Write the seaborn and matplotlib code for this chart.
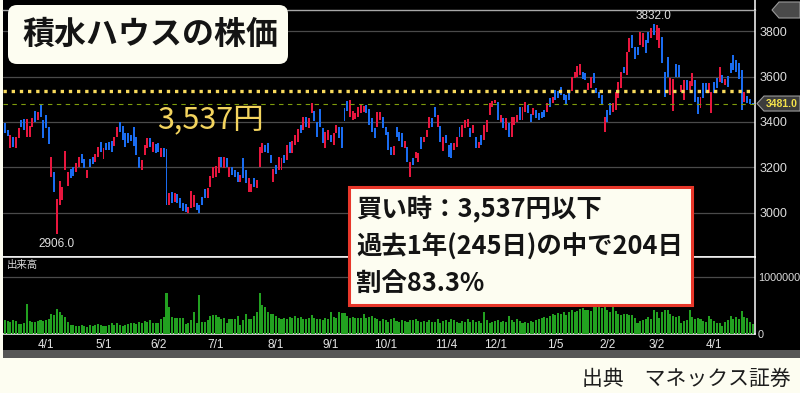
import numpy as np
import pandas as pd
import matplotlib
matplotlib.use("Agg")
import matplotlib.pyplot as plt
from matplotlib.patches import FancyBboxPatch, Rectangle, Polygon
from matplotlib.lines import Line2D
from matplotlib.transforms import IdentityTransform
import seaborn as sns

# ---------------- data ----------------
first_day = -15  # trading-day index of first candle (4/1 = 0)

opens = [
    3394, 3364, 3284, 3335, 3284, 3328, 3408, 3411, 3335, 3332,
    3379, 3450, 3408, 3473, 3408, 3430, 3379, 3159, 3181, 2906,
    3034, 3056, 3188, 3119, 3191, 3203, 3178, 3203, 3257, 3235,
    3152, 3235, 3247, 3225, 3247, 3313, 3235, 3306, 3313, 3318,
    3294, 3335, 3401, 3382, 3350, 3350, 3342, 3379, 3335, 3247,
    3188, 3254, 3284, 3328, 3269, 3303, 3309, 3247, 3284, 3279,
    3034, 3093, 3049, 3083, 3063, 3041, 3039, 3000, 3020, 3027,
    3041, 3034, 3071, 3103, 3063, 3115, 3152, 3159, 3174, 3247,
    3196, 3240, 3159, 3203, 3188, 3181, 3137, 3240, 3188, 3093,
    3090, 3152, 3108, 3203, 3262, 3299, 3309, 3254, 3137, 3210,
    3188, 3188, 3254, 3232, 3313, 3262, 3298, 3313, 3386, 3364,
    3423, 3372, 3438, 3450, 3401, 3456, 3372, 3284, 3320, 3342,
    3298, 3350, 3379, 3379, 3460, 3494, 3423, 3408, 3411, 3423,
    3438, 3445, 3475, 3456, 3416, 3372, 3379, 3408, 3423, 3379,
    3357, 3291, 3254, 3379, 3357, 3350, 3284, 3291, 3159, 3240,
    3240, 3225, 3335, 3313, 3335, 3372, 3416, 3464, 3376, 3382,
    3273, 3342, 3298, 3309, 3276, 3291, 3379, 3335, 3372, 3379,
    3372, 3350, 3332, 3284, 3342, 3320, 3357, 3431, 3465, 3482,
    3489, 3401, 3416, 3364, 3394, 3335, 3387, 3401, 3464, 3408,
    3445, 3475, 3435, 3431, 3452, 3438, 3445, 3452, 3445, 3504,
    3482, 3541, 3538, 3555, 3523, 3518, 3526, 3538, 3592, 3600,
    3607, 3621, 3614, 3541, 3548, 3614, 3548, 3533, 3518, 3357,
    3452, 3482, 3445, 3452, 3504, 3548, 3643, 3607, 3710, 3783,
    3731, 3731, 3739, 3731, 3761, 3798, 3768, 3832, 3761, 3724,
    3775, 3621, 3684, 3519, 3450, 3655, 3651, 3533, 3497, 3585,
    3541, 3558, 3585, 3511, 3460, 3570, 3570, 3526, 3441, 3577,
    3592, 3577, 3607, 3563, 3602, 3658, 3695, 3673, 3658, 3629,
    3489, 3514, 3500, 3484,
]
closes = [
    3350, 3338, 3342, 3291, 3335, 3372, 3379, 3364, 3411, 3382,
    3416, 3401, 3445, 3420, 3328, 3372, 3303, 3244, 3093, 3060,
    3140, 3115, 3272, 3181, 3152, 3163, 3221, 3247, 3218, 3196,
    3188, 3200, 3215, 3257, 3288, 3269, 3284, 3276, 3276, 3269,
    3335, 3376, 3357, 3320, 3291, 3306, 3318, 3294, 3254, 3196,
    3232, 3298, 3328, 3291, 3313, 3262, 3269, 3284, 3247, 3034,
    3088, 3045, 3085, 3045, 3020, 3009, 3005, 3027, 3097, 3078,
    3012, 2997, 3034, 3064, 3108, 3162, 3203, 3206, 3247, 3203,
    3247, 3203, 3203, 3166, 3159, 3137, 3166, 3152, 3130, 3152,
    3125, 3115, 3144, 3291, 3306, 3269, 3265, 3218, 3191, 3171,
    3247, 3240, 3221, 3298, 3262, 3318, 3342, 3367, 3350, 3423,
    3379, 3419, 3485, 3404, 3335, 3379, 3306, 3357, 3364, 3313,
    3353, 3387, 3328, 3284, 3406, 3450, 3497, 3450, 3441, 3464,
    3475, 3470, 3438, 3387, 3357, 3328, 3445, 3445, 3372, 3342,
    3276, 3254, 3294, 3335, 3318, 3291, 3318, 3225, 3225, 3210,
    3269, 3262, 3279, 3335, 3364, 3420, 3379, 3420, 3430, 3313,
    3335, 3306, 3247, 3240, 3306, 3335, 3335, 3387, 3408, 3411,
    3335, 3387, 3284, 3313, 3298, 3387, 3408, 3482, 3494, 3497,
    3408, 3430, 3372, 3416, 3335, 3423, 3423, 3430, 3408, 3464,
    3489, 3438, 3401, 3460, 3416, 3408, 3416, 3423, 3482, 3467,
    3511, 3497, 3504, 3518, 3497, 3475, 3497, 3596, 3621, 3646,
    3655, 3588, 3585, 3570, 3599, 3570, 3526, 3504, 3475, 3423,
    3401, 3430, 3482, 3533, 3577, 3621, 3614, 3710, 3768, 3724,
    3676, 3695, 3798, 3790, 3705, 3749, 3812, 3783, 3827, 3812,
    3658, 3511, 3599, 3592, 3588, 3599, 3599, 3563, 3585, 3541,
    3582, 3614, 3489, 3435, 3511, 3504, 3526, 3573, 3533, 3526,
    3548, 3643, 3570, 3588, 3555, 3614, 3629, 3621, 3588, 3452,
    3533, 3485, 3479, 3481,
]
volumes_k = [  # thousand shares
    240, 230, 215, 250, 225, 180, 175, 200, 530, 230,
    220, 210, 230, 240, 235, 250, 270, 350, 340, 440,
    390, 330, 300, 220, 160, 170, 150, 140, 160, 150,
    130, 170, 150, 160, 180, 170, 150, 140, 160, 190,
    160, 190, 170, 150, 170, 180, 200, 190, 180, 210,
    200, 230, 220, 240, 200, 190, 200, 260, 300, 710,
    480, 300, 290, 280, 280, 290, 180, 200, 250, 380,
    200, 680, 210, 220, 240, 310, 340, 330, 300, 270,
    290, 190, 270, 270, 270, 310, 160, 250, 350, 270,
    270, 320, 380, 720, 500, 470, 380, 350, 350, 310,
    290, 260, 290, 270, 300, 280, 310, 280, 300, 260,
    270, 290, 330, 290, 270, 260, 240, 280, 270, 380,
    300, 290, 380, 370, 370, 310, 290, 300, 280, 290,
    290, 350, 280, 300, 310, 280, 260, 230, 270, 240,
    210, 270, 280, 230, 220, 250, 230, 220, 250, 250,
    270, 230, 210, 230, 220, 240, 210, 220, 260, 190,
    230, 240, 220, 260, 240, 220, 200, 230, 210, 260,
    210, 250, 220, 230, 190, 380, 240, 200, 210, 230,
    240, 210, 230, 220, 310, 240, 220, 270, 230, 200,
    210, 200, 230, 210, 240, 260, 280, 300, 280, 310,
    360, 340, 370, 360, 390, 340, 380, 420, 380, 410,
    440, 460, 430, 420, 410, 470, 520, 500, 460, 540,
    430, 380, 470, 400, 360, 330, 350, 360, 330, 340,
    280, 200, 230, 250, 270, 300, 270, 430, 380, 280,
    380, 430, 420, 360, 320, 300, 310, 200, 230, 240,
    420, 300, 260, 290, 260, 230, 210, 310, 260, 230,
    190, 200, 150, 220, 250, 310, 260, 300, 270, 410,
    300, 290, 220, 180,
]

tick_days = [0, 21, 41, 62, 84, 104, 124, 146, 164, 186, 205, 223, 244]
tick_labels = ["4/1", "5/1", "6/2", "7/1", "8/1", "9/1", "10/1", "11/4",
               "12/1", "1/5", "2/2", "3/2", "4/1"]
price_ticks = [3000, 3200, 3400, 3600, 3800]
volume_ticks = [0, 1000000]
buy_price = 3537
title = "積水ハウスの株価"
buy_label = "3,537円"
info_lines = ["買い時：3,537円以下", "過去1年(245日)の中で204日", "割合83.3%"]
volume_label = "出来高"
source = "出典　マネックス証券"

# ---------------- style ----------------
sns.set_style("dark")
plt.rcParams["font.family"] = ["Noto Sans CJK JP", "DejaVu Sans"]
NUMFONT = ["Liberation Sans", "DejaVu Sans"]

W, H = 800, 393
PX = IdentityTransform()


def fx(x):
    return x / W


def fy(y):
    return 1 - y / H


CREAM = "#fdfdf1"
RED = "#e8163e"
BLUE = "#1a6cf0"
GREEN = "#22a020"

o = np.array(opens, float)
c = np.array(closes, float)
days = np.arange(first_day, first_day + len(c))
vol = np.array(volumes_k, float) * 1000

fig = plt.figure(figsize=(8, 3.93), dpi=100)
fig.patch.set_facecolor(CREAM)

# dark chart area & lower grey strip
fig.add_artist(Rectangle((3, H - 358), W - 3, 358, transform=PX,
                         facecolor="black", edgecolor="none", zorder=0))
fig.add_artist(Rectangle((3, H - 358), W - 3, 8, transform=PX,
                         facecolor="#565656", edgecolor="none", zorder=0.5))

xlim = (-15.7, 258.9)

# ---------------- price panel ----------------
pax = fig.add_axes([fx(3), fy(257), fx(755) - fx(3), (257 - 10) / H])
pax.set_facecolor("black")
pax.grid(False)
pax.set_xlim(*xlim)
pax.set_ylim(2805, 3893)
for p in price_ticks:
    pax.axhline(p, color="#4a4a4a", lw=0.9, zorder=1)

up = c >= o
colors = np.where(up, RED, BLUE)
pax.bar(days, np.abs(c - o), bottom=np.minimum(o, c), width=0.72,
        color=colors, linewidth=0, zorder=3)

pax.axhline(buy_price, color="#f7d95b", lw=2.4, dashes=(1.0, 1.45),
            dash_capstyle="butt", zorder=4)
pax.axhline(c[-1], color="#7f9c0c", lw=0.8, dashes=(4, 4), zorder=4)

pax.yaxis.tick_right()
pax.set_yticks(price_ticks)
pax.set_yticklabels([str(p) for p in price_ticks], family=NUMFONT)
pax.tick_params(axis="y", length=0, pad=3, labelcolor="#dcdcdc", labelsize=9)
pax.set_xticks([])
pax.spines["left"].set_visible(False)
pax.spines["top"].set_color("#a8a8a8")
pax.spines["top"].set_linewidth(1.0)
pax.spines["right"].set_color("white")
pax.spines["right"].set_linewidth(1.1)
pax.spines["bottom"].set_color("#e6e6e6")
pax.spines["bottom"].set_linewidth(1.1)

# high / low labels
imax = int(np.argmax(np.maximum(o, c)))
imin = int(np.argmin(np.minimum(o, c)))
hi = np.maximum(o, c)[imax]
lo = np.minimum(o, c)[imin]
pax.annotate(f"{hi:.1f}", xy=(days[imax], hi), xytext=(0, 1.5),
             textcoords="offset points", ha="center", va="bottom",
             color="#e0e0e0", fontsize=8.5, family=NUMFONT, zorder=6)
pax.annotate(f"{lo:.1f}", xy=(days[imin], lo), xytext=(0, -3),
             textcoords="offset points", ha="center", va="top",
             color="#e0e0e0", fontsize=8.5, family=NUMFONT, zorder=6)

# ---------------- volume panel ----------------
vax = fig.add_axes([fx(3), fy(334.3), fx(755) - fx(3), (334.3 - 257) / H])
vdf = pd.DataFrame({"day": days, "volume": vol})
sns.barplot(data=vdf, x="day", y="volume", native_scale=True, color=GREEN,
            saturation=1, width=0.75, linewidth=0, errorbar=None, ax=vax,
            zorder=3)
vax.set_facecolor("black")
vax.grid(False)
vax.set_xlim(*xlim)
vax.set_ylim(0, 1.342e6)
vax.axhline(1e6, color="#4a4a4a", lw=0.9, zorder=1)
vax.set_xlabel("")
vax.set_ylabel("")
vax.set_xticks(tick_days)
vax.set_xticklabels(tick_labels, family=NUMFONT)
vax.tick_params(axis="x", colors="#8a8a8a", length=2, width=0.8, pad=1.5,
                labelcolor="#e6e6e6", labelsize=8.5)
vax.yaxis.tick_right()
vax.set_yticks(volume_ticks)
vax.set_yticklabels([str(v) for v in volume_ticks], family=NUMFONT)
vax.tick_params(axis="y", length=0, pad=2, labelcolor="#dcdcdc", labelsize=7.8)
vax.spines["left"].set_visible(False)
for s in ["top", "bottom", "right"]:
    vax.spines[s].set_color("white")
    vax.spines[s].set_linewidth(1.1)

fig.text(7, H - 265, volume_label, transform=PX, color="#d8d8d8",
         fontsize=7.5, va="center", ha="left")

# right axis line above the price panel
fig.add_artist(Line2D([755, 755], [H - 10, H], transform=PX, color="white",
                      lw=1.1))

# ---------------- tags on the right ----------------
fig.canvas.draw()
ty = pax.transData.transform((0, c[-1]))[1]
fig.add_artist(Polygon([(757, ty), (764, ty + 7.5), (800, ty + 7.5),
                        (800, ty - 7.5), (764, ty - 7.5)], closed=True,
                       transform=PX, facecolor="#3c3c3c",
                       edgecolor="#9a9a9a", lw=0.8, zorder=5))
fig.text(782, ty, f"{c[-1]:.1f}", transform=PX, color="#f3e14a",
         fontsize=7.5, fontweight="bold", family=NUMFONT, ha="center",
         va="center", zorder=6)
fig.add_artist(Polygon([(772, H - 10), (779, H - 2), (800, H - 2),
                        (800, H - 18), (779, H - 18)], closed=True,
                       transform=PX, facecolor="#4a4a4a",
                       edgecolor="#9a9a9a", lw=0.8, zorder=5))

# ---------------- text overlays ----------------
fig.add_artist(FancyBboxPatch((8, H - 64), 280, 59,
                              boxstyle="round,pad=0,rounding_size=9",
                              transform=PX, facecolor=CREAM,
                              edgecolor="none", zorder=7))
fig.text(22, H - 34.5, title, transform=PX, fontsize=23, fontweight="bold",
         color="#141414", ha="left", va="center", zorder=8)

fig.text(157, H - 120, buy_label, transform=PX, fontsize=22,
         color="#f3d45e", ha="left", va="center", zorder=8)

fig.add_artist(Rectangle((349, H - 305), 343, 118, transform=PX,
                         facecolor=CREAM, edgecolor="#e8372a", lw=2.2,
                         zorder=7))
for txt, yy in zip(info_lines, [210, 247, 283]):
    fig.text(356, H - yy, txt, transform=PX, fontsize=18.3, fontweight="bold",
             color="#141414", ha="left", va="center", zorder=8)

fig.text(791, H - 379, source, transform=PX, fontsize=15, color="#1e1e1e",
         ha="right", va="center", zorder=8)

fig.savefig("out.png", dpi=100, facecolor=fig.get_facecolor())
